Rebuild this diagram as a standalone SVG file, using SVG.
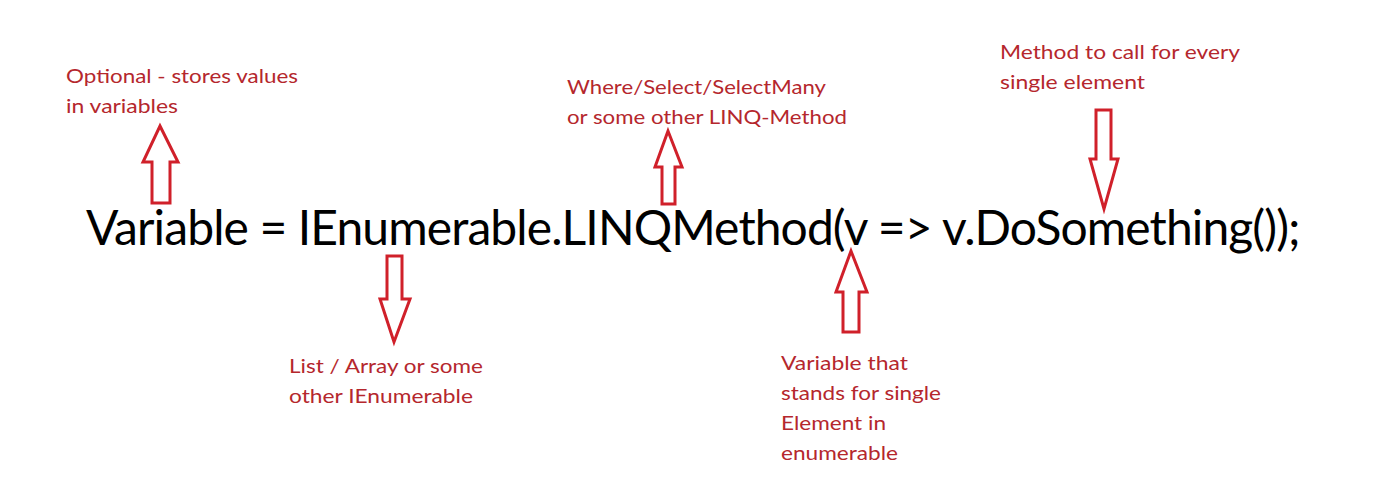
<svg xmlns="http://www.w3.org/2000/svg" width="1400" height="491" viewBox="0 0 1400 491">
<style>
.lbl{font-family:Lato,"Open Sans","Liberation Sans",sans-serif;font-size:20px;fill:#b5272d}
.main{font-family:Lato,"Open Sans","Liberation Sans",sans-serif;font-size:48px;letter-spacing:-0.9px;fill:#000}
.arr{fill:#fff;stroke:#d0202a;stroke-width:3;stroke-linejoin:miter}
</style>
<rect width="1400" height="491" fill="#fff"/>
<g id="code"><text class="main" x="86" y="245">Variable = IEnumerable.LINQMethod(v =&gt; v.DoSomething());</text></g>
<g id="note-variable">
<text class="lbl" x="66" y="83" textLength="232" lengthAdjust="spacingAndGlyphs">Optional - stores values</text>
<text class="lbl" x="66" y="113" textLength="112" lengthAdjust="spacingAndGlyphs">in variables</text>
</g>
<g id="note-linq">
<text class="lbl" x="567" y="94" textLength="259" lengthAdjust="spacingAndGlyphs">Where/Select/SelectMany</text>
<text class="lbl" x="567" y="124" textLength="280" lengthAdjust="spacingAndGlyphs">or some other LINQ-Method</text>
</g>
<g id="note-method">
<text class="lbl" x="1000" y="59" textLength="240" lengthAdjust="spacingAndGlyphs">Method to call for every</text>
<text class="lbl" x="1000" y="89" textLength="145" lengthAdjust="spacingAndGlyphs">single element</text>
</g>
<g id="note-list">
<text class="lbl" x="289" y="373" textLength="194" lengthAdjust="spacingAndGlyphs">List / Array or some</text>
<text class="lbl" x="289" y="403" textLength="184" lengthAdjust="spacingAndGlyphs">other IEnumerable</text>
</g>
<g id="note-v">
<text class="lbl" x="781" y="370" textLength="127" lengthAdjust="spacingAndGlyphs">Variable that</text>
<text class="lbl" x="781" y="400" textLength="160" lengthAdjust="spacingAndGlyphs">stands for single</text>
<text class="lbl" x="781" y="430" textLength="105" lengthAdjust="spacingAndGlyphs">Element in</text>
<text class="lbl" x="781" y="460" textLength="117" lengthAdjust="spacingAndGlyphs">enumerable</text>
</g>
<g id="connectors">
<polygon class="arr" points="160,126 178,162 170,162 170,203 152,203 152,162 143,162"/>
<polygon class="arr" points="668,131 682,167 675,167 675,204 662,204 662,167 655,167"/>
<polygon class="arr" points="1096,110 1111,110 1111,159 1118,159 1104,209 1090,159 1096,159"/>
<polygon class="arr" points="387,256 402,256 402,299 410,299 394,342 380,299 387,299"/>
<polygon class="arr" points="851,251 867,292 859,292 859,332 843,332 843,292 836,292"/>
</g>
</svg>
